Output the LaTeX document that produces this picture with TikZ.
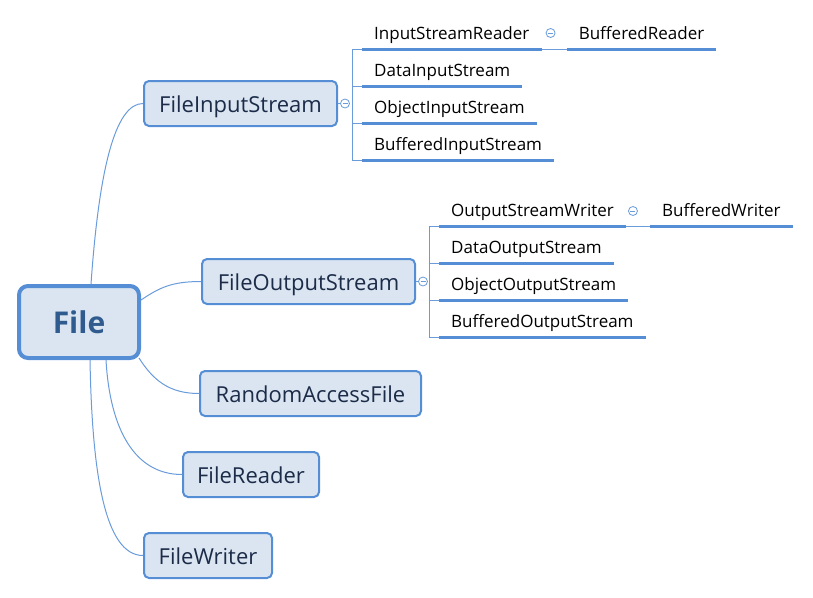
\documentclass[tikz,border=0pt]{standalone}
\usepackage{fontspec}
\setmainfont{Open Sans}
\usetikzlibrary{positioning}
\definecolor{boxfill}{HTML}{DBE5F1}
\definecolor{boxline}{HTML}{558ED5}
\definecolor{roottext}{HTML}{2F5B8F}
\definecolor{kidtext}{HTML}{1B2B48}
\definecolor{twigline}{HTML}{6A9BDB}
\begin{document}
\begin{tikzpicture}[x=1pt,y=-1pt,node distance=37pt,
    root/.style={draw=boxline,line width=4pt,fill=boxfill,rounded corners=9pt,
      minimum width=120pt,minimum height=72pt,text=roottext,
      font=\bfseries\fontsize{30}{36}\selectfont},
    kid/.style={draw=boxline,line width=2pt,fill=boxfill,rounded corners=5pt,
      minimum height=45pt,text height=22pt,text depth=4pt,text=kidtext,
      font=\fontsize{22}{26}\selectfont},
    leaf/.style={anchor=south west,inner xsep=12pt,inner ysep=5pt,
      text height=13pt,text depth=4pt,font=\fontsize{17}{20}\selectfont,
      append after command={(\tikzlastnode.south west) edge[draw=boxline,line width=3pt] (\tikzlastnode.south east)}},
    dot/.style={circle,draw=twigline,line width=0.8pt,fill=white,minimum size=9pt,inner sep=0pt,
      path picture={\draw[twigline,line width=0.8pt] ([xshift=2pt]path picture bounding box.west) -- ([xshift=-2pt]path picture bounding box.east);}},
    twig/.style={draw=twigline,line width=1pt}]
   \useasboundingbox (0,0) rectangle (813,597);

   % main branches
   \node[root] (file) at (79,322) {File};
   \node[kid,minimum width=193pt] (fis) at (240.5,103.5) {FileInputStream};
   \node[kid,minimum width=213pt] (fos) at (308.5,281.5) {FileOutputStream};
   \node[kid,minimum width=221pt] (raf) at (310.5,393.5) {RandomAccessFile};
   \node[kid,minimum width=136pt] (fr) at (251,474.5) {FileReader};
   \node[kid,minimum width=128pt] (fw) at (208,555.5) {FileWriter};

   \draw[twig] ([xshift=12pt]file.north) .. controls +(8,-114) and +(-28,0) .. (fis.west);
   \draw[twig] ([yshift=22pt]file.east) .. controls +(18,-12) and +(-30,0) .. (fos.west);
   \draw[twig] ([shift={(-2,-2)}]file.south east) .. controls +(14,22) and +(-30,0) .. (raf.west);
   \draw[twig] ([xshift=27pt]file.south) .. controls +(4,70) and +(-47,0) .. (fr.west);
   \draw[twig] ([xshift=11pt]file.south) .. controls +(2,110) and +(-39,0) .. (fw.west);

   % input streams
   \node[dot] (fisdot) at (345,103.5) {};
   \draw[twig] (fis) -- (fisdot);
   \node[leaf] (isr) at (362,49) {InputStreamReader};
   \node[leaf,below=of isr.south west,anchor=south west] (dis) {DataInputStream};
   \node[leaf,below=of dis.south west,anchor=south west] (ois) {ObjectInputStream};
   \node[leaf,below=of ois.south west,anchor=south west] (bis) {BufferedInputStream};
   \node[leaf,right=25pt of isr.south east,anchor=south west] (br) {BufferedReader};
   \node[dot] (isrdot) at ([shift={(9,-16)}]isr.south east) {};
   \path (fisdot.east) -- ++(2.5,0) coordinate (fisbar);
   \foreach \leafname in {isr,dis,ois,bis}
     \draw[twig] (fisbar) |- (\leafname.south west);
   \draw[twig] (isr.south east) -- (br.south west);

   % output streams
   \node[dot] (fosdot) at (423,281.5) {};
   \draw[twig] (fos) -- (fosdot);
   \node[leaf] (osw) at (439,226) {OutputStreamWriter};
   \node[leaf,below=of osw.south west,anchor=south west] (dos) {DataOutputStream};
   \node[leaf,below=of dos.south west,anchor=south west] (oos) {ObjectOutputStream};
   \node[leaf,below=of oos.south west,anchor=south west] (bos) {BufferedOutputStream};
   \node[leaf,right=24pt of osw.south east,anchor=south west] (bw) {BufferedWriter};
   \node[dot] (oswdot) at ([shift={(7,-15)}]osw.south east) {};
   \path (fosdot.east) -- ++(1.5,0) coordinate (fosbar);
   \foreach \leafname in {osw,dos,oos,bos}
     \draw[twig] (fosbar) |- (\leafname.south west);
   \draw[twig] (osw.south east) -- (bw.south west);
\end{tikzpicture}
\end{document}
